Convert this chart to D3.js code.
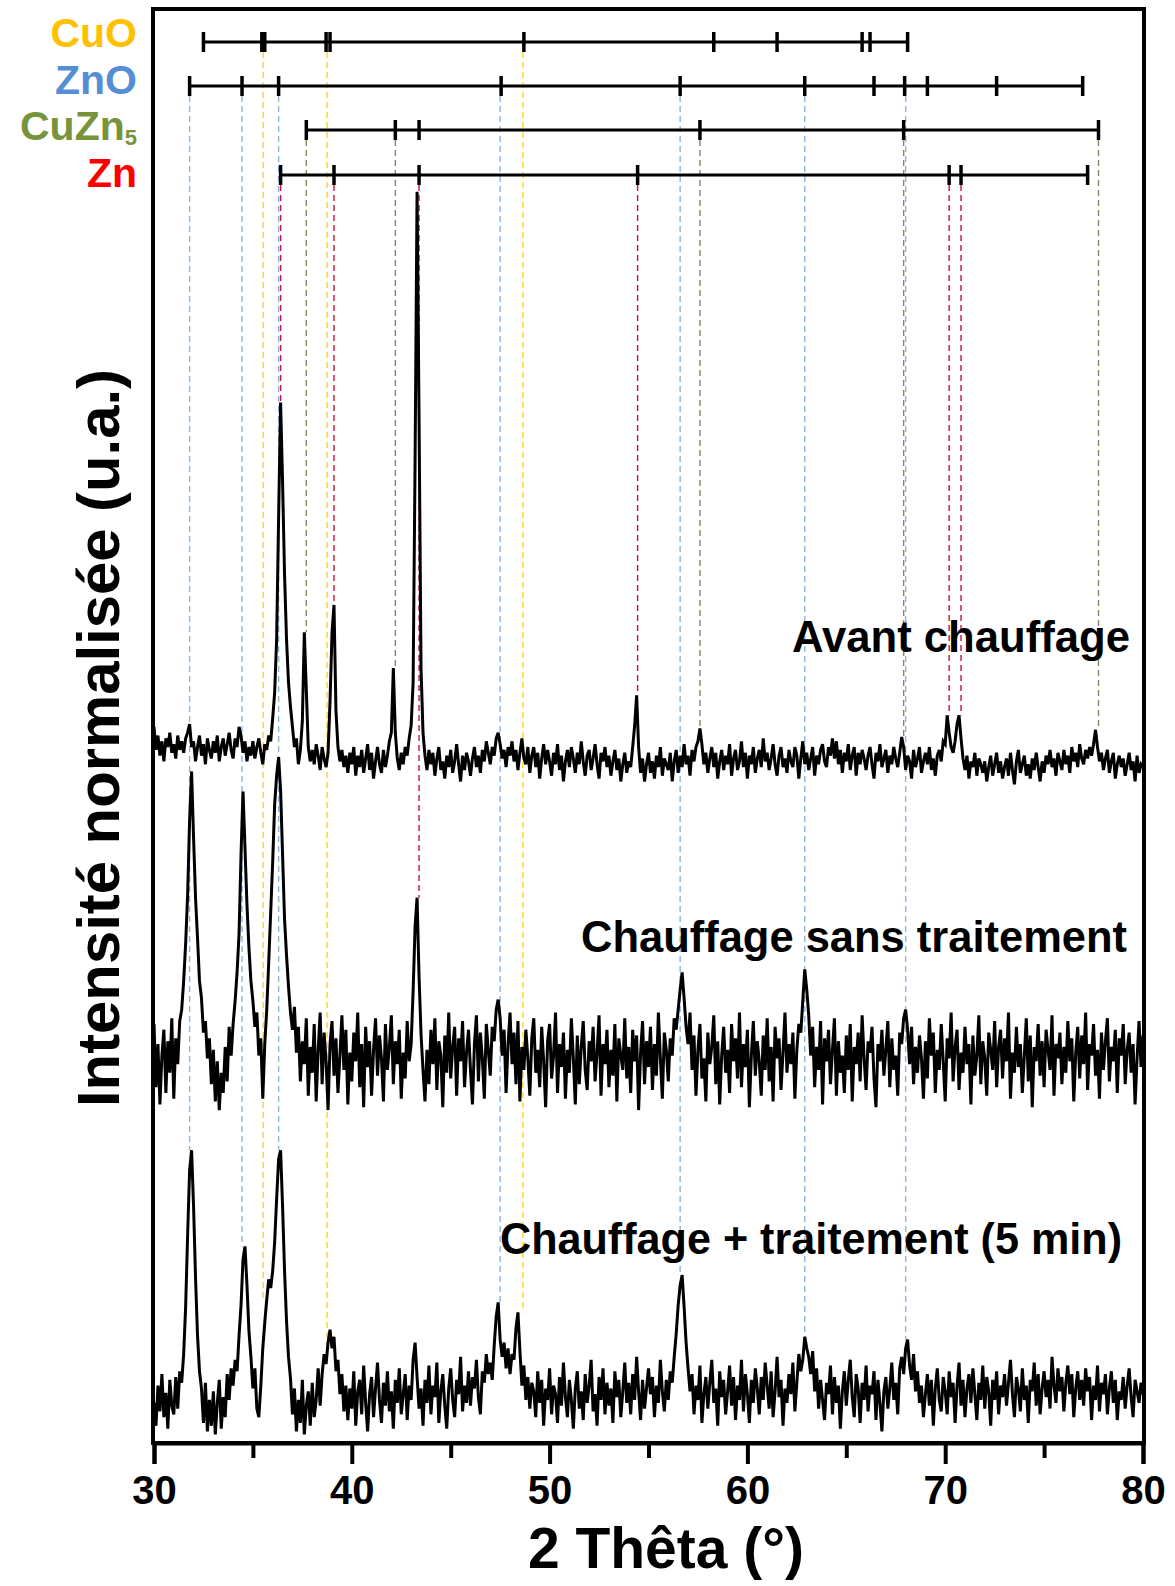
<!DOCTYPE html>
<html>
<head>
<meta charset="utf-8">
<script src="https://cdn.jsdelivr.net/npm/d3@7"></script>
<style>
  body { margin: 0; background: #fff; }
  svg { display: block; }
  text { font-family: "Liberation Sans", Arial, sans-serif; font-weight: bold; }
</style>
</head>
<body>
<svg id="chart" width="1175" height="1586"></svg>
<script>
// 2-theta grid of the scans (degrees)
const thetaStart = 30, thetaEnd = 80, thetaStep = 0.1;

// normalised intensity (a.u.), one value per 0.1 deg, 30.0 -> 80.0
const avantChauffage = [
  44, 28, 38, 24, 34, 20, 36, 30, 40, 26,
  32, 22, 38, 28, 34, 26, 36, 40, 46, 30,
  34, 20, 30, 38, 24, 32, 18, 36, 28, 22,
  34, 26, 38, 20, 30, 36, 24, 32, 40, 28,
  22, 36, 30, 44, 38, 26, 34, 20, 30, 24,
  34, 22, 30, 36, 26, 18, 32, 28, 38, 34,
  50, 68, 105, 190, 270, 215, 150, 105, 75, 58,
  44, 30, 36, 18, 28, 48, 110, 70, 30, 20,
  28, 18, 32, 24, 14, 30, 22, 16, 26, 62,
  110, 129, 55, 30, 20, 28, 16, 24, 12, 26,
  18, 30, 10, 24, 16, 28, 12, 22, 32, 14,
  26, 8, 20, 30, 18, 12, 28, 16, 24, 34,
  40, 85, 40, 22, 14, 26, 18, 30, 24, 36,
  45, 75, 230, 417, 260, 85, 40, 24, 14, 28,
  18, 26, 10, 22, 30, 14, 20, 8, 24, 16,
  28, 12, 20, 32, 18, 6, 24, 14, 26, 20,
  10, 22, 30, 16, 24, 12, 28, 20, 34, 26,
  18, 30, 24, 36, 40, 32, 22, 28, 16, 30,
  24, 34, 20, 28, 14, 26, 36, 22, 18, 30,
  12, 24, 30, 16, 26, 8, 22, 32, 18, 28,
  20, 10, 26, 18, 32, 14, 24, 6, 20, 28,
  16, 30, 22, 12, 26, 18, 34, 20, 10, 24,
  28, 14, 22, 32, 18, 8, 26, 20, 30, 16,
  24, 10, 20, 28, 14, 22, 6, 18, 26, 12,
  20, 16, 30, 45, 66, 30, 12, 22, 6, 18,
  26, 12, 20, 8, 24, 16, 30, 10, 22, 18,
  14, 26, 6, 20, 28, 12, 24, 16, 32, 18,
  24, 10, 28, 20, 30, 34, 43, 32, 18, 26,
  12, 22, 30, 16, 26, 8, 20, 28, 14, 24,
  18, 32, 10, 22, 28, 14, 20, 34, 16, 26,
  8, 24, 18, 30, 12, 22, 28, 16, 36, 20,
  26, 14, 22, 32, 18, 10, 24, 30, 16, 22,
  12, 28, 20, 16, 30, 24, 8, 22, 34, 18,
  26, 14, 22, 30, 10, 24, 18, 28, 32, 20,
  16, 30, 24, 36, 22, 34, 18, 28, 12, 26,
  20, 32, 14, 24, 30, 10, 26, 18, 28, 22,
  14, 24, 30, 18, 8, 26, 20, 32, 16, 22,
  28, 12, 24, 18, 30, 22, 16, 26, 37, 30,
  14, 24, 20, 8, 28, 16, 22, 30, 12, 20,
  26, 18, 30, 14, 22, 10, 24, 28, 20, 34,
  32, 52, 40, 30, 26, 34, 46, 52, 36, 22,
  14, 24, 8, 20, 16, 26, 10, 22, 18, 12,
  20, 6, 16, 24, 10, 18, 26, 12, 20, 8,
  16, 22, 10, 26, 14, 4, 20, 28, 12, 18,
  24, 10, 18, 8, 22, 14, 26, 16, 6, 20,
  12, 24, 18, 28, 16, 22, 10, 26, 20, 14,
  28, 18, 24, 12, 30, 20, 26, 16, 32, 22,
  18, 28, 22, 30, 24, 32, 42, 30, 20, 26,
  14, 22, 28, 12, 20, 26, 8, 18, 24, 16,
  22, 10, 18, 26, 14, 20, 6, 24, 12, 18,
  16
];

const chauffageSansTraitement = [
  62, 18, 48, 6, 40, 58, 14, 50, 28, 66,
  10, 52, 34, 64, 72, 92, 118, 152, 204, 238,
  192, 150, 122, 92, 80, 56, 64, 38, 52, 20,
  44, 8, 36, 2, 28, 14, 46, 22, 60, 40,
  62, 78, 98, 125, 180, 224, 185, 145, 115, 92,
  78, 60, 70, 40, 52, 10, 48, 72, 105, 140,
  175, 215, 235, 248, 225, 180, 135, 110, 88, 70,
  58, 74, 42, 60, 22, 50, 34, 66, 12, 46,
  28, 62, 8, 44, 70, 20, 56, 36, 2, 48,
  64, 26, 52, 14, 40, 68, 30, 58, 6, 42,
  22, 56, 36, 70, 18, 48, 4, 60, 32, 50,
  12, 44, 66, 26, 54, 38, 8, 62, 30, 46,
  68, 20, 50, 34, 58, 10, 42, 24, 64, 36,
  48, 85, 130, 150, 95, 55, 30, 8, 44, 20,
  58, 34, 66, 16, 50, 40, 4, 54, 28, 70,
  24, 46, 60, 12, 52, 36, 64, 18, 42, 58,
  30, 6, 48, 68, 22, 56, 38, 10, 62, 44,
  26, 60, 50, 72, 79, 66, 40, 58, 14, 48,
  70, 34, 56, 20, 64, 8, 46, 30, 58, 38,
  12, 52, 66, 28, 44, 18, 60, 36, 4, 50,
  62, 24, 40, 70, 14, 48, 32, 56, 10, 44,
  28, 66, 38, 6, 54, 20, 46, 64, 30, 16,
  50, 36, 60, 22, 42, 68, 12, 48, 34, 58,
  18, 44, 26, 62, 8, 52, 40, 30, 66, 24,
  46, 14, 58, 36, 54, 2, 42, 64, 20, 50,
  32, 60, 16, 48, 26, 70, 38, 10, 56, 44,
  22, 52, 40, 66, 58, 72, 86, 98, 80, 60,
  48, 70, 30, 54, 12, 44, 62, 24, 38, 8,
  56, 34, 46, 68, 20, 50, 6, 40, 60, 28,
  44, 14, 62, 36, 52, 24, 70, 18, 48, 32,
  58, 4, 40, 64, 26, 50, 36, 12, 54, 30,
  66, 22, 46, 8, 60, 38, 52, 16, 42, 70,
  28, 48, 34, 56, 10, 44, 62, 56, 78, 100,
  86, 68, 40, 60, 18, 46, 30, 64, 6, 52,
  36, 58, 20, 44, 66, 12, 50, 28, 40, 14,
  54, 30, 62, 8, 46, 34, 56, 22, 68, 38,
  16, 50, 42, 60, 24, 4, 48, 36, 58, 26,
  44, 64, 18, 52, 30, 40, 12, 56, 48, 66,
  72, 58, 34, 60, 20, 46, 28, 54, 38, 10,
  50, 24, 66, 40, 56, 14, 44, 30, 62, 36,
  8, 52, 38, 70, 22, 46, 58, 16, 42, 28,
  60, 34, 48, 6, 54, 26, 40, 68, 20, 50,
  38, 12, 56, 44, 30, 64, 18, 46, 58, 24,
  52, 36, 70, 10, 42, 28, 60, 32, 48, 14,
  40, 66, 22, 54, 4, 46, 36, 62, 26, 50,
  18, 58, 44, 30, 68, 12, 48, 38, 56, 20,
  46, 28, 64, 36, 52, 8, 42, 60, 24, 54,
  34, 70, 16, 48, 40, 62, 26, 44, 10, 56,
  30, 50, 66, 22, 46, 36, 58, 14, 52, 40,
  62, 20, 44, 56, 28, 48, 6, 38, 64, 32,
  54
];

const chauffageTraitement = [
  28, 12, 40, 22, 48, 18, 35, 10, 44, 26,
  20, 46, 24, 50, 42, 62, 95, 145, 190, 204,
  165, 115, 75, 50, 38, 14, 42, 8, 30, 12,
  36, 6, 28, 44, 10, 32, 18, 48, 30, 52,
  40, 58, 50, 75, 96, 128, 137, 110, 78, 60,
  38, 52, 24, 18, 40, 66, 84, 100, 114, 108,
  120, 140, 170, 198, 204, 165, 120, 85, 60, 45,
  20, 38, 8, 30, 14, 44, 6, 26, 36, 12,
  42, 18, 30, 52, 26, 48, 62, 55, 70, 79,
  66, 74, 50, 58, 34, 48, 22, 40, 16, 38,
  24, 50, 12, 36, 44, 20, 54, 28, 8, 34,
  46, 18, 38, 56, 30, 14, 42, 26, 50, 22,
  36, 10, 44, 28, 52, 20, 34, 48, 16, 40,
  30, 58, 70, 46, 24, 38, 12, 44, 28, 54,
  20, 40, 32, 56, 14, 36, 48, 26, 10, 38,
  52, 30, 18, 44, 34, 60, 22, 40, 28, 50,
  26, 46, 38, 58, 32, 20, 50, 42, 62, 48,
  56, 44, 68, 88, 98, 72, 60, 70, 52, 66,
  48, 62, 58, 80, 91, 64, 40, 54, 30, 46,
  24, 42, 36, 18, 50, 28, 44, 12, 38, 30,
  52, 20, 40, 34, 14, 46, 26, 56, 32, 18,
  44, 30, 10, 38, 50, 24, 36, 16, 48, 28,
  40, 58, 22, 34, 12, 46, 30, 52, 20, 42,
  26, 38, 14, 50, 32, 44, 18, 36, 56, 28,
  42, 20, 48, 30, 60, 36, 16, 44, 24, 38,
  52, 34, 46, 18, 40, 28, 58, 36, 22, 44,
  30, 50, 42, 60, 76, 96, 110, 117, 95, 70,
  52, 36, 48, 20, 40, 30, 54, 14, 34, 46,
  24, 42, 58, 28, 38, 12, 50, 32, 44, 20,
  36, 54, 26, 46, 16, 40, 30, 58, 22, 48,
  34, 14, 44, 28, 52, 38, 20, 46, 30, 56,
  40, 24, 50, 18, 36, 60, 32, 44, 12, 38,
  28, 48, 34, 56, 22, 42, 62, 50, 58, 74,
  66, 60, 48, 64, 36, 52, 24, 44, 30, 16,
  42, 34, 54, 20, 46, 28, 40, 10, 36, 50,
  26, 44, 58, 32, 18, 48, 38, 14, 42, 30,
  54, 22, 40, 34, 50, 16, 44, 28, 8, 36,
  46, 24, 38, 56, 30, 42, 20, 52, 60, 48,
  66, 72, 54, 44, 62, 36, 50, 28, 40, 18,
  34, 48, 26, 44, 12, 38, 52, 30, 22, 46,
  36, 20, 50, 32, 42, 14, 40, 56, 26, 44,
  18, 38, 48, 28, 52, 34, 16, 42, 30, 54,
  24, 46, 36, 12, 44, 30, 50, 20, 40, 32,
  48, 26, 42, 58, 34, 18, 46, 38, 22, 52,
  30, 40, 14, 44, 36, 56, 26, 48, 20, 38,
  50, 32, 44, 24, 60, 40, 28, 52, 36, 46,
  22, 42, 54, 34, 48, 18, 38, 50, 30, 44,
  26, 52, 36, 46, 16, 40, 30, 54, 22, 42,
  34, 48, 20, 38, 50, 28, 44, 16, 36, 30,
  46, 24, 40, 52, 32, 18, 44, 36, 28, 42,
  34
];

// vertical stacking offset of each scan (a.u.)
const seriesOffsets = [455, 230, 0];
const seriesLabels = ["Avant chauffage", "Chauffage sans traitement", "Chauffage + traitement (5 min)"];

// reference patterns (2-theta of each reflection)
const phaseNames = ["CuO", "ZnO", "CuZn", "Zn"];
const cuoPeaks   = [32.5, 35.45, 35.6, 38.7, 38.9, 48.7, 58.3, 61.5, 65.8, 66.2, 68.1];
const znoPeaks   = [31.8, 34.45, 36.3, 47.55, 56.6, 62.9, 66.4, 67.95, 69.1, 72.6, 76.95];
const cuzn5Peaks = [37.7, 42.2, 43.4, 57.6, 67.9, 77.75];
const znPeaks    = [36.4, 39.1, 43.4, 54.45, 70.2, 70.8, 77.2];

// dashed guide lines: 2-theta and the intensity (a.u.) where each stops
const cuoDropTheta   = [35.52, 38.75, 48.65];
const cuoDropEnd     = [100, 65, 91];
const znoDropTheta   = [31.8, 34.45, 36.3, 47.5, 56.6, 62.9, 68.0];
const znoDropEnd     = [204, 137, 204, 98, 117, 74, 72];
const cuzn5DropTheta = [37.7, 42.2, 57.6, 67.9, 77.75];
const cuzn5DropEnd   = [565, 540, 498, 492, 497];
const znDropTheta    = [36.4, 39.1, 43.4, 54.45, 70.2, 70.8];
const znDropEnd      = [725, 584, 380, 521, 507, 507];

const xMajorTicks = [30, 40, 50, 60, 70, 80];
const xMinorTicks = [35, 45, 55, 65, 75];

// ---------------------------------------------------------------
const svg = d3.select("#chart");
const plot = { left: 153, right: 1144, top: 9, bottom: 1443 };

const x = d3.scaleLinear().domain([thetaStart, thetaEnd]).range([154, 1143]);
const y = d3.scaleLinear().domain([0, 1000]).range([plot.bottom, 8]);

const theta = d3.range(avantChauffage.length).map(i => thetaStart + i * thetaStep);

const phaseColors = ["#FFC000", "#558ED5", "#77933C", "#FF0000"];
const dropColors  = ["#FFD42A", "#8DB3E2", "#8A8660", "#C8143C"];
const stickY      = [42, 86, 130, 175];
const legendY     = [47, 94, 140, 187];

const phases = [
  { peaks: cuoPeaks,   dropTheta: cuoDropTheta,   dropEnd: cuoDropEnd },
  { peaks: znoPeaks,   dropTheta: znoDropTheta,   dropEnd: znoDropEnd },
  { peaks: cuzn5Peaks, dropTheta: cuzn5DropTheta, dropEnd: cuzn5DropEnd },
  { peaks: znPeaks,    dropTheta: znDropTheta,    dropEnd: znDropEnd }
];

// dashed guides (behind everything)
const guides = svg.append("g");
phases.forEach((p, k) => {
  guides.selectAll(null).data(p.dropTheta.map((t, i) => ({ t, end: p.dropEnd[i] })))
    .enter().append("line")
    .attr("x1", d => x(d.t)).attr("x2", d => x(d.t))
    .attr("y1", stickY[k]).attr("y2", d => y(d.end))
    .attr("stroke", dropColors[k]).attr("stroke-width", 1.4)
    .attr("stroke-dasharray", "6,4");
});

// scans
const line = d3.line().x((d, i) => x(theta[i])).y(d => d[1]);
[avantChauffage, chauffageSansTraitement, chauffageTraitement].forEach((vals, s) => {
  svg.append("path")
    .datum(vals.map(v => [0, y(v + seriesOffsets[s])]))
    .attr("fill", "none").attr("stroke", "#000")
    .attr("stroke-width", 3).attr("stroke-linejoin", "miter")
    .attr("d", line);
});

// reference sticks
phases.forEach((p, k) => {
  const g = svg.append("g");
  g.append("line")
    .attr("x1", x(d3.min(p.peaks))).attr("x2", x(d3.max(p.peaks)))
    .attr("y1", stickY[k]).attr("y2", stickY[k])
    .attr("stroke", "#000").attr("stroke-width", 3);
  g.selectAll(null).data(p.peaks).enter().append("line")
    .attr("x1", d => x(d)).attr("x2", d => x(d))
    .attr("y1", stickY[k] - 10).attr("y2", stickY[k] + 10)
    .attr("stroke", "#000").attr("stroke-width", 3.5);
});

// phase legend
phaseNames.forEach((name, k) => {
  const t = svg.append("text")
    .attr("x", 137).attr("y", legendY[k])
    .attr("text-anchor", "end").attr("font-size", 41)
    .attr("fill", phaseColors[k]).text(name);
  if (k === 2) t.append("tspan").attr("font-size", 22).attr("dy", 5).text("5");
});

// scan labels
const labelRight = [1130, 1127, 1122];
const labelBase  = [652, 952, 1254];
const labelWidth = [338, 546, 622];
seriesLabels.forEach((s, i) => {
  svg.append("text")
    .attr("x", labelRight[i]).attr("y", labelBase[i])
    .attr("text-anchor", "end").attr("font-size", 44)
    .attr("textLength", labelWidth[i]).attr("lengthAdjust", "spacingAndGlyphs")
    .attr("fill", "#000").text(s);
});

// frame
svg.append("rect")
  .attr("x", plot.left).attr("y", plot.top)
  .attr("width", plot.right - plot.left).attr("height", plot.bottom - plot.top)
  .attr("fill", "none").attr("stroke", "#000").attr("stroke-width", 4);

// x axis
svg.append("g").attr("transform", `translate(0,${plot.bottom})`)
  .call(d3.axisBottom(x).tickValues(xMajorTicks).tickSize(21).tickPadding(12).tickFormat(d3.format("d")))
  .call(g => g.select(".domain").attr("stroke-width", 4))
  .call(g => g.selectAll("line").attr("stroke-width", 4))
  .call(g => g.selectAll("text").attr("font-size", 40).attr("fill", "#000")
    .attr("font-family", "'Liberation Sans', Arial, sans-serif").attr("font-weight", "bold"));

svg.append("g").attr("transform", `translate(0,${plot.bottom})`)
  .call(d3.axisBottom(x).tickValues(xMinorTicks).tickSize(15).tickFormat(""))
  .call(g => g.select(".domain").remove())
  .call(g => g.selectAll("line").attr("stroke-width", 4));

// axis titles
svg.append("text")
  .attr("x", 666).attr("y", 1568).attr("text-anchor", "middle")
  .attr("font-size", 57).attr("fill", "#000").text("2 Thêta (°)");

svg.append("text")
  .attr("transform", "translate(119,738) rotate(-90)")
  .attr("text-anchor", "middle").attr("font-size", 60)
  .attr("textLength", 738).attr("lengthAdjust", "spacingAndGlyphs")
  .attr("fill", "#000").text("Intensité normalisée (u.a.)");
</script>
</body>
</html>
